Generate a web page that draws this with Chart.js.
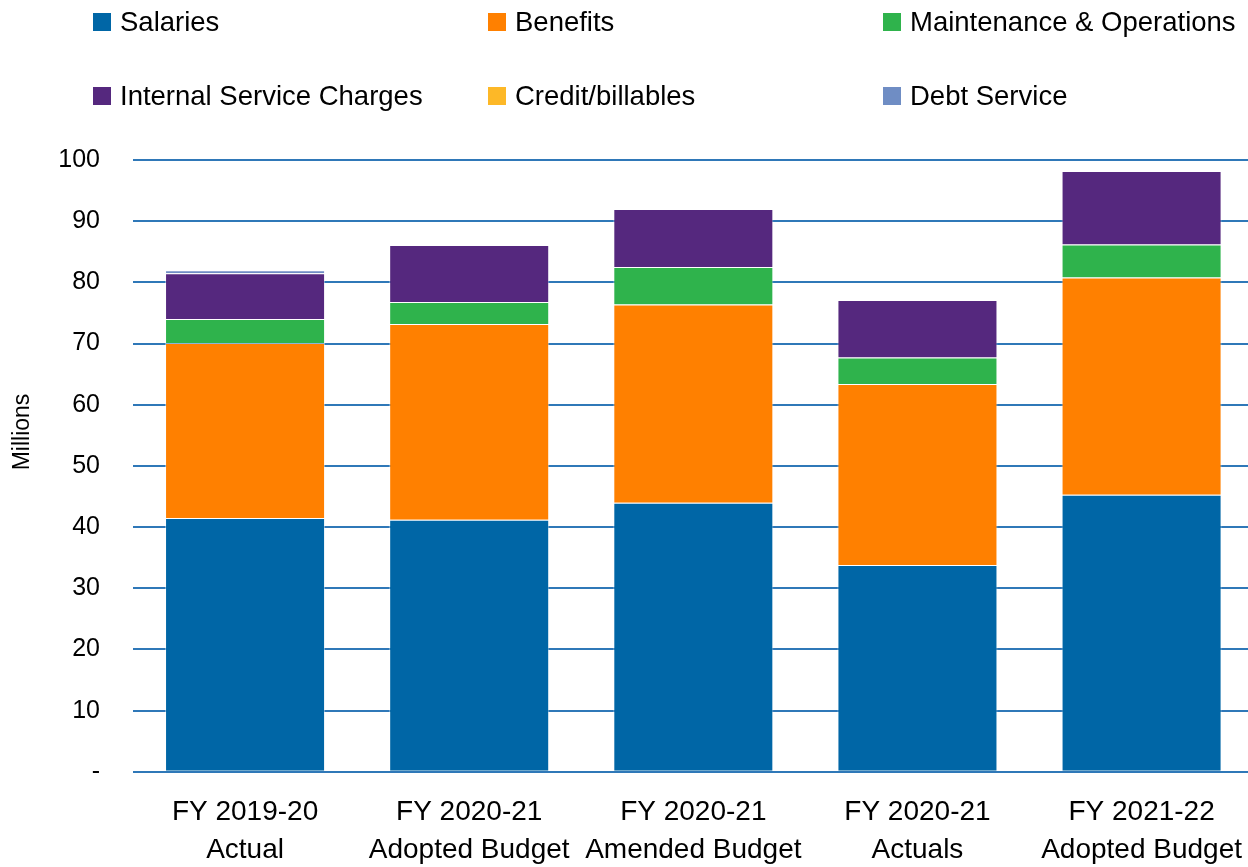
<!DOCTYPE html>
<html>
<head>
<meta charset="utf-8">
<script src="https://cdn.jsdelivr.net/npm/chart.js@4/dist/chart.umd.min.js"></script>
<style>
  html, body { margin: 0; padding: 0; background: #fff; overflow: hidden; }
  body { width: 1248px; height: 867px; }
  canvas { display: block; }
</style>
</head>
<body>
<canvas id="chart" width="1255" height="867"></canvas>
<script>
const categories = [
  ['FY 2019-20', 'Actual'],
  ['FY 2020-21', 'Adopted Budget'],
  ['FY 2020-21', 'Amended Budget'],
  ['FY 2020-21', 'Actuals'],
  ['FY 2021-22', 'Adopted Budget'],
];

// millions
const salaries = [41.5, 41.2, 44.0, 33.8, 45.3];
const benefits = [28.6, 32.0, 32.4, 29.6, 35.5];
const maintenanceOps = [3.9, 3.6, 6.1, 4.3, 5.4];
const internalService = [7.5, 9.3, 9.5, 9.4, 12.0];
const creditBillables = [-0.15, -0.15, 0, -0.15, -0.15];
const debtService = [0.5, 0, 0, 0, 0];

const yTicks = [0, 10, 20, 30, 40, 50, 60, 70, 80, 90, 100];
const yTitle = 'Millions';

const FONT = '"Liberation Sans", Arial, sans-serif';
const GRID = '#2f78b8';

// legend laid out as a fixed 3-column grid, like the original,
// plus the axis title, which sits a bit above the axis middle
const gridLegend = {
  id: 'gridLegend',
  afterDraw(chart) {
    const ctx = chart.ctx;
    const cols = [93, 488, 883];
    const rows = [22, 96];
    ctx.save();
    ctx.font = '27.5px ' + FONT;
    ctx.textBaseline = 'middle';
    ctx.textAlign = 'left';
    chart.data.datasets.forEach((ds, i) => {
      const x = cols[i % 3];
      const y = rows[Math.floor(i / 3)];
      ctx.fillStyle = ds.backgroundColor;
      ctx.fillRect(x, y - 9, 18, 18);
      ctx.fillStyle = '#000';
      ctx.fillText(ds.label, x + 27, y + 1);
    });

    ctx.translate(23, 432);
    ctx.rotate(-Math.PI / 2);
    ctx.textAlign = 'center';
    ctx.font = '23px ' + FONT;
    ctx.fillText(yTitle, 0, 0);
    ctx.restore();
  }
};

const bar = (label, data, color) => ({
  label, data, backgroundColor: color,
  borderColor: 'rgba(255,255,255,0.45)', borderWidth: 1,
  stack: 's',
});

new Chart(document.getElementById('chart'), {
  type: 'bar',
  data: {
    labels: categories,
    datasets: [
      bar('Salaries', salaries, '#0066a6'),
      bar('Benefits', benefits, '#ff8000'),
      bar('Maintenance & Operations', maintenanceOps, '#2fb34c'),
      bar('Internal Service Charges', internalService, '#55287e'),
      bar('Credit/billables', creditBillables, '#fdb827'),
      bar('Debt Service', debtService, '#6f8dc4'),
    ],
  },
  plugins: [gridLegend],
  options: {
    responsive: false,
    animation: false,
    layout: { padding: { top: 160, right: 0, left: 10, bottom: -15 } },
    datasets: { bar: { categoryPercentage: 1, barPercentage: 0.714 } },
    plugins: { legend: { display: false }, tooltip: { enabled: false } },
    scales: {
      x: {
        stacked: true,
        grid: { display: false },
        border: { display: false },
        ticks: { color: '#000', font: { family: FONT, size: 28, lineHeight: 1.36 }, padding: 13, maxRotation: 0, autoSkip: false },
      },
      y: {
        stacked: true,
        min: 0,
        max: 100,
        afterBuildTicks: axis => { axis.ticks = yTicks.map(v => ({ value: v })); },
        afterFit: axis => { axis.width = 123; },
        grid: { color: GRID, lineWidth: 2, drawTicks: false },
        border: { display: false },
        ticks: {
          color: '#000',
          font: { family: FONT, size: 25 },
          padding: 33,
          callback: v => v === 0 ? '-' : v,
        },
      },
    },
  },
});
</script>
</body>
</html>
